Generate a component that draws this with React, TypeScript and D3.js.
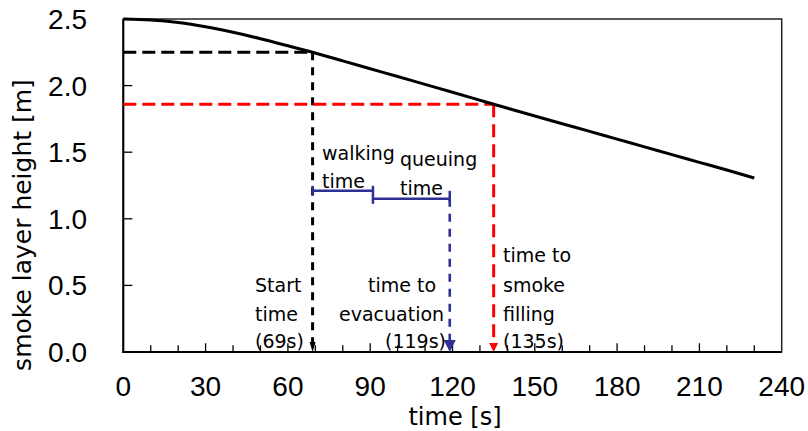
import * as d3 from "d3";

// smoke layer height curve
const timeS = [0, 10, 20, 30, 40, 50, 60, 69, 80, 90, 100, 110, 120, 135, 150, 160, 170, 180, 190, 200, 210, 220, 230];
const heightM = [2.5, 2.493, 2.474, 2.442, 2.4, 2.352, 2.299, 2.25, 2.186, 2.127, 2.068, 2.009, 1.95, 1.86, 1.772, 1.714, 1.656, 1.598, 1.54, 1.482, 1.424, 1.366, 1.306];

const xTickLabels = [0, 30, 60, 90, 120, 150, 180, 210, 240];
const yTickLabels = [0, 0.5, 1.0, 1.5, 2.0, 2.5];

// event markers
const startTime = 69;
const startHeight = 2.25;
const walkEndTime = 91;
const walkHeight = 1.21;
const evacTime = 119;
const queueHeight = 1.15;
const fillTime = 135;
const fillHeight = 1.86;

const W = 808;
const H = 431;
const FONT = "'DejaVu Sans', sans-serif";
const TICK_FONT = "'Liberation Sans', Arial, sans-serif";
const BLUE = "#2e3192";
const RED = "#ff0000";

export default function App() {
  const x = d3.scaleLinear().domain([0, 240]).range([123.3, 781.7]);
  const y = d3.scaleLinear().domain([0, 2.5]).range([352, 19]);
  const points = timeS.map((t, i) => [t, heightM[i]] as [number, number]);
  const line = d3.line<[number, number]>().x(d => x(d[0])).y(d => y(d[1])).curve(d3.curveMonotoneX);

  const y0 = y(0);
  const arrow = (cx: number, w: number, h: number) =>
    `M${cx - w / 2},${y0 - h} L${cx + w / 2},${y0 - h} L${cx},${y0} Z`;

  const minorTicks = d3.range(10, 240, 10);

  return (
    <svg width={W} height={H} style={{ position: "absolute", left: 0, top: 0, background: "#fff" }}>
      {/* frame */}
      <rect x={x(0)} y={y(2.5)} width={x(240) - x(0)} height={y(0) - y(2.5)} fill="none" stroke="#222" strokeWidth={1.5} />
      <line x1={x(0)} x2={x(0)} y1={y(2.5)} y2={y0 + 1} stroke="#000" strokeWidth={2} />
      <line x1={x(0) - 1} x2={x(240)} y1={y0} y2={y0} stroke="#000" strokeWidth={2} />

      {/* ticks */}
      {minorTicks.map(t => (
        <line key={t} x1={x(t)} x2={x(t)} y1={y0} y2={y0 - (t % 30 === 0 ? 8.7 : 6.7)} stroke="#000" strokeWidth={1.3} />
      ))}
      {yTickLabels.slice(1, -1).map(v => (
        <line key={v} x1={x(0)} x2={x(0) + 9} y1={y(v)} y2={y(v)} stroke="#000" strokeWidth={1.3} />
      ))}

      {/* tick labels */}
      {xTickLabels.map(t => (
        <text key={t} x={x(t)} y={396} textAnchor="middle" fontFamily={TICK_FONT} fontSize={28} fill="#000">{t}</text>
      ))}
      {yTickLabels.map(v => (
        <text key={v} x={87} y={y(v)} dy="0.36em" textAnchor="end" fontFamily={TICK_FONT} fontSize={28} fill="#000">{v.toFixed(1)}</text>
      ))}

      {/* axis titles */}
      <text x={455} y={425} textAnchor="middle" fontFamily={FONT} fontSize={24} fill="#000">time [s]</text>
      <text transform={`translate(31,225) rotate(-90)`} textAnchor="middle" fontFamily={FONT} fontSize={25} fill="#000">smoke layer height [m]</text>

      {/* dashed guides */}
      <line x1={x(0)} x2={x(startTime)} y1={y(startHeight)} y2={y(startHeight)} stroke="#000" strokeWidth={3} strokeDasharray="13,6" />
      <line x1={x(startTime)} x2={x(startTime)} y1={y(startHeight)} y2={y0 - 9} stroke="#000" strokeWidth={3} strokeDasharray="8,7" />
      <line x1={x(0)} x2={x(fillTime)} y1={y(fillHeight)} y2={y(fillHeight)} stroke={RED} strokeWidth={3} strokeDasharray="13,6" />
      <line x1={x(fillTime)} x2={x(fillTime)} y1={y(fillHeight)} y2={y0 - 8} stroke={RED} strokeWidth={3} strokeDasharray="13,7" />
      <line x1={x(evacTime)} x2={x(evacTime)} y1={y(queueHeight)} y2={y0 - 11} stroke={BLUE} strokeWidth={2.6} strokeDasharray="8,7" />

      {/* arrowheads */}
      <path d={arrow(x(startTime), 6, 10)} fill="#000" />
      <path d={arrow(x(fillTime), 9, 9)} fill={RED} />
      <path d={arrow(x(evacTime), 12, 12)} fill={BLUE} />

      {/* walking / queuing bars */}
      <g stroke={BLUE} strokeWidth={2.5}>
        <line x1={x(startTime)} x2={x(walkEndTime)} y1={y(walkHeight)} y2={y(walkHeight)} />
        <line x1={x(startTime)} x2={x(startTime)} y1={y(walkHeight) - 5} y2={y(walkHeight) + 5} />
        <line x1={x(walkEndTime)} x2={x(walkEndTime)} y1={y(walkHeight) - 5} y2={y(queueHeight) + 5} />
        <line x1={x(walkEndTime)} x2={x(evacTime)} y1={y(queueHeight)} y2={y(queueHeight)} />
        <line x1={x(evacTime)} x2={x(evacTime)} y1={y(queueHeight) - 8} y2={y(queueHeight) + 3} />
      </g>

      {/* smoke layer curve */}
      <path d={line(points) ?? ""} fill="none" stroke="#000" strokeWidth={3} />

      {/* annotations */}
      <g fontFamily={FONT} fontSize={19} fill="#000">
        <text x={322} y={160}>walking</text>
        <text x={322} y={188}>time</text>
        <text x={400} y={166}>queuing</text>
        <text x={400} y={195}>time</text>

        <text x={255} y={292}>Start</text>
        <text x={255} y={321}>time</text>
        <text x={255} y={348}>(69s)</text>

        <text x={368} y={292}>time to</text>
        <text x={339} y={321}>evacuation</text>
        <text x={385} y={348}>(119s)</text>

        <text x={503} y={262}>time to</text>
        <text x={503} y={292}>smoke</text>
        <text x={503} y={321}>filling</text>
        <text x={503} y={348}>(135s)</text>
      </g>
    </svg>
  );
}
